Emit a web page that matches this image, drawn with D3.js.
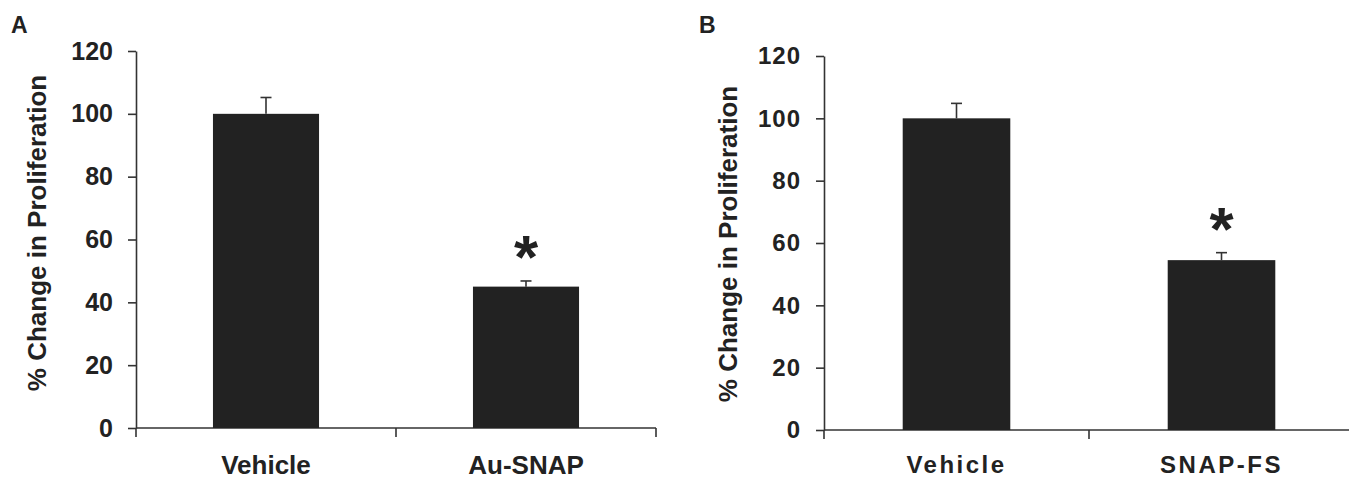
<!DOCTYPE html>
<html>
<head>
<meta charset="utf-8">
<script src="https://cdn.jsdelivr.net/npm/d3@7"></script>
<style>
  html, body { margin: 0; padding: 0; background: #fff; }
  svg { display: block; font-family: "Liberation Sans", Arial, sans-serif; }
</style>
</head>
<body>
<svg id="chart" width="1349" height="480"></svg>
<script>
// ---- data ----
const categoriesA = ["Vehicle", "Au-SNAP"];
const valuesA = [100, 45];
const errorsA = [5.2, 1.8];
const starsA = ["", "*"];

const categoriesB = ["Vehicle", "SNAP-FS"];
const valuesB = [100, 54.5];
const errorsB = [4.8, 2.4];
const starsB = ["", "*"];

const yTicks = [0, 20, 40, 60, 80, 100, 120];
const panelLabels = ["A", "B"];
const yTitle = "% Change in Proliferation";

const svg = d3.select("#chart");
const ink = "#222";
const axisCol = "#333";

function panel(cfg) {
  const g = svg.append("g");
  const x = d3.scaleBand().domain(cfg.cats).range([cfg.x0, cfg.x1])
    .paddingInner(cfg.pad).paddingOuter(cfg.pad / 2);
  const y = d3.scaleLinear().domain([0, 120]).range([cfg.y0, cfg.y1]);

  // y axis
  const yAxis = d3.axisLeft(y).tickValues(yTicks).tickSize(8).tickPadding(15).tickSizeOuter(0);
  const ya = g.append("g").attr("transform", `translate(${cfg.x0},0)`).call(yAxis);
  ya.select(".domain").attr("stroke", axisCol).attr("stroke-width", 1.6);
  ya.selectAll(".tick line").attr("stroke", axisCol).attr("stroke-width", 1.6);
  ya.selectAll(".tick text").attr("fill", ink).attr("font-size", cfg.tickFont)
    .attr("font-weight", "bold").attr("letter-spacing", cfg.tickSpacing);

  // x axis baseline with ticks at band boundaries
  g.append("line").attr("x1", cfg.x0).attr("x2", cfg.xEnd)
    .attr("y1", y(0)).attr("y2", y(0))
    .attr("stroke", axisCol).attr("stroke-width", 1.6);
  const bounds = [cfg.x0, cfg.x0 + x.step(), cfg.x0 + 2 * x.step()].filter(v => v <= cfg.xEnd + 1);
  g.selectAll(".xt").data(bounds).enter().append("line")
    .attr("x1", d => d).attr("x2", d => d)
    .attr("y1", y(0)).attr("y2", y(0) + 9)
    .attr("stroke", axisCol).attr("stroke-width", 1.6);

  // x labels
  g.selectAll(".xl").data(cfg.cats).enter().append("text")
    .attr("x", d => x(d) + x.bandwidth() / 2)
    .attr("y", cfg.labelY)
    .attr("text-anchor", "middle")
    .attr("font-size", cfg.labelFont).attr("font-weight", "bold")
    .attr("letter-spacing", cfg.labelSpacing)
    .attr("fill", ink).text(d => d);

  // error bars
  cfg.cats.forEach((c, i) => {
    const cx = x(c) + x.bandwidth() / 2;
    g.append("line").attr("x1", cx).attr("x2", cx)
      .attr("y1", y(cfg.vals[i])).attr("y2", y(cfg.vals[i] + cfg.errs[i]))
      .attr("stroke", axisCol).attr("stroke-width", 1.6);
    g.append("line").attr("x1", cx - 5.5).attr("x2", cx + 5.5)
      .attr("y1", y(cfg.vals[i] + cfg.errs[i])).attr("y2", y(cfg.vals[i] + cfg.errs[i]))
      .attr("stroke", axisCol).attr("stroke-width", 1.6);
  });

  // bars
  g.selectAll(".bar").data(cfg.cats).enter().append("rect")
    .attr("x", d => x(d)).attr("width", x.bandwidth())
    .attr("y", (d, i) => y(cfg.vals[i]))
    .attr("height", (d, i) => y(0) - y(cfg.vals[i]))
    .attr("fill", ink);

  // significance stars
  cfg.cats.forEach((c, i) => {
    if (!cfg.stars[i]) return;
    g.append("text")
      .attr("x", x(c) + x.bandwidth() / 2)
      .attr("y", y(cfg.vals[i] + cfg.errs[i]) + cfg.starOffset)
      .attr("text-anchor", "middle")
      .attr("font-size", 62).attr("font-weight", "bold").attr("fill", ink)
      .text(cfg.stars[i]);
  });

  // y title
  g.append("text")
    .attr("transform", `translate(${cfg.titleX},${cfg.titleY}) rotate(-90)`)
    .attr("text-anchor", "middle")
    .attr("font-size", 26).attr("font-weight", "bold").attr("fill", ink)
    .text(yTitle);

  // panel letter
  g.append("text").attr("x", cfg.letterX).attr("y", 33)
    .attr("font-size", 23).attr("font-weight", "bold").attr("fill", ink)
    .text(cfg.letter);
}

panel({
  cats: categoriesA, vals: valuesA, errs: errorsA, stars: starsA,
  x0: 136, x1: 656, xEnd: 656, y0: 428, y1: 51, pad: 0.592,
  tickFont: 25, tickSpacing: 0, labelFont: 26, labelSpacing: 0, labelY: 474,
  titleX: 46, titleY: 233, letterX: 11, letter: panelLabels[0], starOffset: -3
});

panel({
  cats: categoriesB, vals: valuesB, errs: errorsB, stars: starsB,
  x0: 824, x1: 1354, xEnd: 1349, y0: 430, y1: 56, pad: 0.594,
  tickFont: 24, tickSpacing: 1, labelFont: 24, labelSpacing: 2.5, labelY: 473,
  titleX: 737, titleY: 244, letterX: 699, letter: panelLabels[1], starOffset: -3
});
</script>
</body>
</html>
